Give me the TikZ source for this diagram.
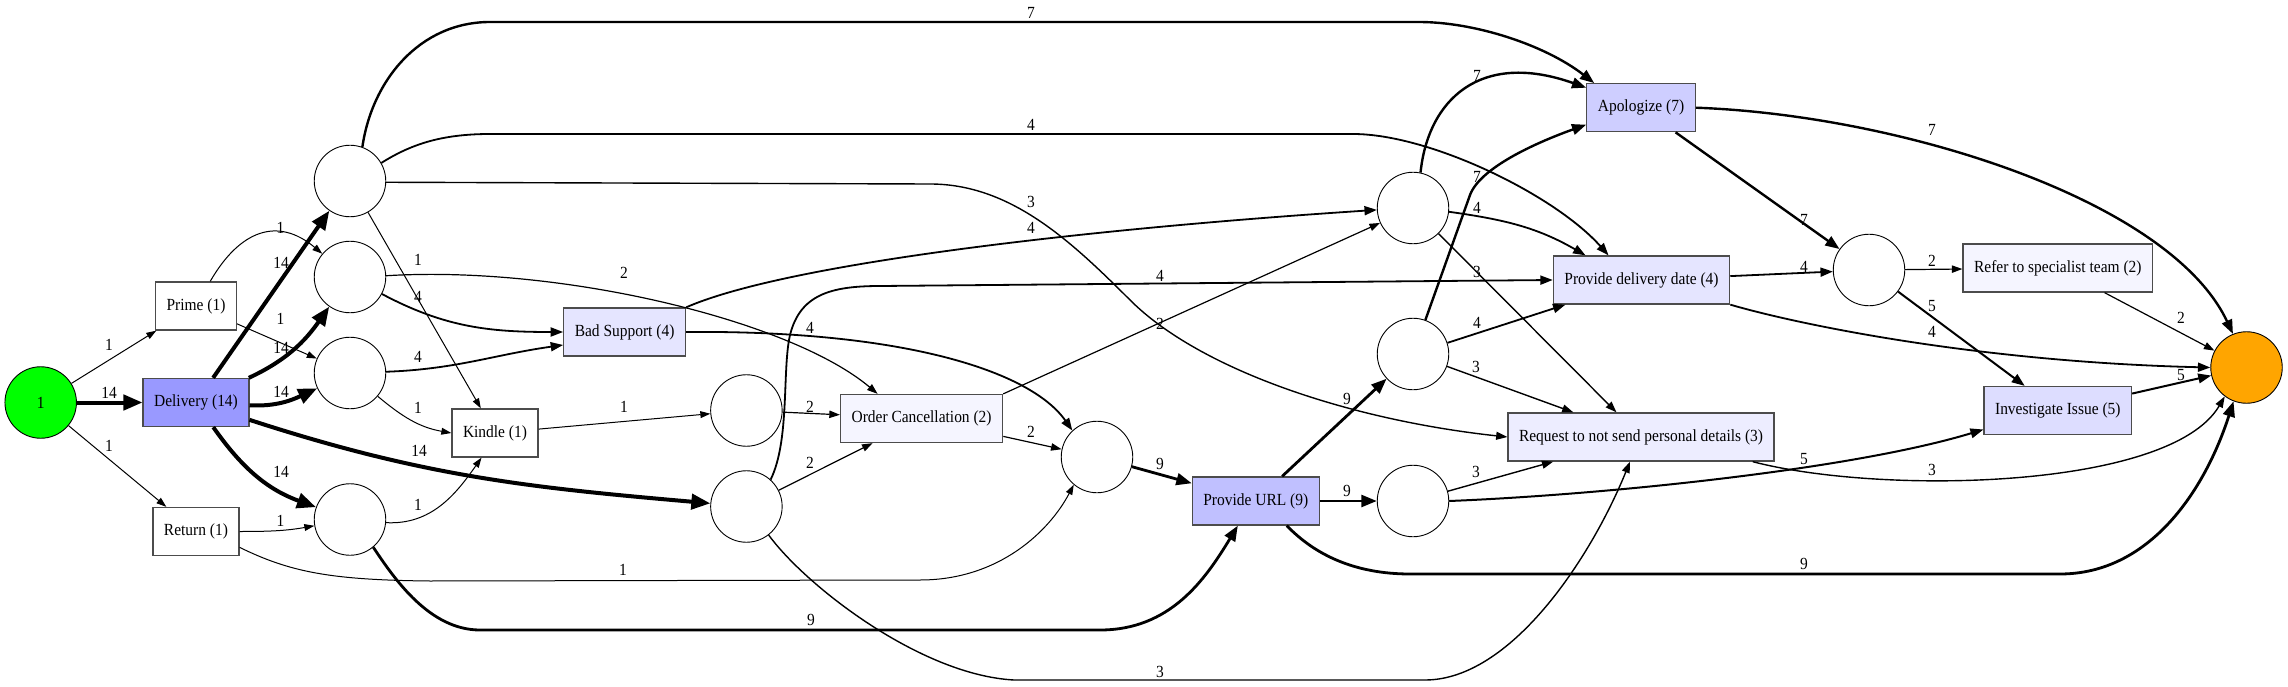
\documentclass[tikz,border=0pt]{standalone}
\usepackage{fontspec}
\setmainfont{Liberation Serif}[FakeStretch=0.91]
\usetikzlibrary{arrows.meta}

\definecolor{startgreen}{RGB}{0,255,0}
\definecolor{endorange}{RGB}{255,165,0}
\definecolor{freq14}{RGB}{153,153,255}
\definecolor{freq9}{RGB}{192,192,255}
\definecolor{freq7}{RGB}{206,206,255}
\definecolor{freq5}{RGB}{221,221,255}
\definecolor{freq4}{RGB}{229,229,255}
\definecolor{freq3}{RGB}{237,237,255}
\definecolor{freq2}{RGB}{245,245,255}

\tikzstyle{place} = [draw, circle, minimum size=71.5pt, inner sep=0pt, line width=0.9pt]
\tikzstyle{trans} = [draw=black!70, rectangle, line width=1.3pt,
    minimum height=48pt, inner xsep=11pt, inner ysep=0pt, fill=white]
\tikzstyle{lbl} = [inner sep=0pt]
\tikzset{flow/.style={->, line width=#1pt}}

\begin{document}
\begin{tikzpicture}[x=1pt, y=1pt, >={Triangle[length=7pt 3, width=4pt 2.8]},
    font=\fontsize{17}{20}\selectfont]
      \useasboundingbox (0,0) rectangle (2288,-687);

      \node[place, fill=startgreen] (start) at (40.7,-402.5) {1};
      \node[trans] (prime) at (196,-306) {Prime (1)};
      \node[trans, fill=freq14] (delivery) at (196,-402.5) {Delivery (14)};
      \node[trans] (return) at (196,-531.5) {Return (1)};
      \node[place] (p1) at (350,-181) {};
      \node[place] (p2) at (350,-277) {};
      \node[place] (p3) at (350,-373) {};
      \node[place] (p4) at (350,-519.5) {};
      \node[trans] (kindle) at (495,-433) {Kindle (1)};
      \node[trans, fill=freq4] (badsup) at (624.6,-332) {Bad Support (4)};
      \node[place] (p5) at (746.4,-410.5) {};
      \node[place] (p6) at (746.4,-506.5) {};
      \node[trans, fill=freq2] (cancel) at (921.6,-418.5) {Order Cancellation (2)};
      \node[place] (p7) at (1097,-457) {};
      \node[trans, fill=freq9] (url) at (1255.8,-501) {Provide URL (9)};
      \node[place] (q1) at (1413,-208) {};
      \node[place] (q2) at (1413,-354) {};
      \node[place] (q3) at (1413,-501) {};
      \node[trans, fill=freq7] (apol) at (1641,-107.7) {Apologize (7)};
      \node[trans, fill=freq4] (date) at (1641.5,-280) {Provide delivery date (4)};
      \node[trans, fill=freq3] (privacy) at (1641,-437) {Request to not send personal details (3)};
      \node[place] (r1) at (1869,-270) {};
      \node[trans, fill=freq2] (refer) at (2057.8,-268) {Refer to specialist team (2)};
      \node[trans, fill=freq5] (invest) at (2057.8,-410.5) {Investigate Issue (5)};
      \node[place, fill=endorange] (sink) at (2246.5,-367.5) {};

      % start and first activities
      \draw[flow=1] (start) -- (prime) node[lbl] at (109,-345) {1};
      \draw[flow=4] (start) -- (delivery) node[lbl] at (109,-393) {14};
      \draw[flow=1] (start) -- (return) node[lbl] at (109,-446) {1};
      \draw[flow=1] (prime) to[out=60,in=140,looseness=1.3] (p2) node[lbl] at (280.5,-228) {1};
      \draw[flow=1] (prime) -- (p3) node[lbl] at (280.5,-319) {1};
      \draw[flow=4] (delivery) -- (p1) node[lbl] at (281,-263) {14};
      \draw[flow=4] (delivery) to[out=25,in=235] (p2) node[lbl] at (281,-348) {14};
      \draw[flow=4] (delivery) to[out=-3,in=205] (p3) node[lbl] at (281,-392) {14};
      \draw[flow=4] (delivery) to[out=-55,in=160] (p4) node[lbl] at (281,-472) {14};
      \draw[flow=4] (delivery) to[out=-18,in=175] (p6) node[lbl] at (419,-451) {14};
      \draw[flow=1] (return) to[out=0,in=190] (p4) node[lbl] at (280.5,-521) {1};
      \draw[flow=1] (return.-20) .. controls (290,-572) and (330,-580) .. (430,-581)
          -- (920,-580) .. controls (1000,-580) and (1050,-530) .. (p7.-130)
          node[lbl] at (623,-570) {1};

      % first column of places
      \draw[flow=1] (p1) -- (kindle) node[lbl] at (418,-260) {1};
      \draw[flow=2.4] (p1.70) .. controls (372,-80) and (420,-22) .. (490,-22)
          -- (1419,-22) .. controls (1475,-22) and (1545,-45) .. ([xshift=8pt]apol.north west)
          node[lbl] at (1031,-13) {7};
      \draw[flow=1.8] (p1.30) .. controls (410,-145) and (440,-134) .. (490,-134)
          -- (1353,-134) .. controls (1430,-134) and (1555,-195) .. ([xshift=-33pt]date.north)
          node[lbl] at (1031,-125) {4};
      \draw[flow=1.4] (p1.-2) -- (930,-184) .. controls (1010,-184) and (1070,-240) .. (1130,-300)
          .. controls (1200,-370) and (1350,-420) .. (privacy.west)
          node[lbl] at (1031,-202) {3};
      \draw[flow=1.8] (p2) to[out=-28,in=180] (badsup.west) node[lbl] at (418,-297) {4};
      \draw[flow=1.2] (p2.2) .. controls (560,-265) and (790,-320) .. ([xshift=-44pt]cancel.north)
          node[lbl] at (624,-273) {2};
      \draw[flow=1.8] (p3.2) to[out=2,in=188] ([yshift=-13pt]badsup.west) node[lbl] at (418,-357) {4};
      \draw[flow=1] (p3) to[out=-40,in=170] (kindle.west) node[lbl] at (418,-408) {1};
      \draw[flow=1] (p4.-5) to[out=-3,in=235] ([xshift=-13.5pt]kindle.south) node[lbl] at (418,-505) {1};
      \draw[flow=2.8] (p4.-50) .. controls (395,-580) and (430,-630) .. (480,-630)
          -- (1100,-630) .. controls (1170,-630) and (1205,-580) .. ([xshift=-18pt]url.south)
          node[lbl] at (811,-620) {9};

      % middle part
      \draw[flow=1] (kindle) -- (p5) node[lbl] at (624,-407) {1};
      \draw[flow=1.8] (badsup.north east) .. controls (790,-262) and (1100,-228) .. (q1.183)
          node[lbl] at (1031,-228) {4};
      \draw[flow=1.8] (badsup.east) .. controls (900,-330) and (1030,-370) .. (p7.133)
          node[lbl] at (810,-328) {4};
      \draw[flow=1.2] (p5) -- (cancel) node[lbl] at (810,-407) {2};
      \draw[flow=1.2] (p6) -- (cancel) node[lbl] at (810,-463) {2};
      \draw[flow=1.8] (p6.48) .. controls (790,-440) and (782,-370) .. (790,-335)
          .. controls (800,-295) and (830,-286) .. (880,-286) -- (date.west)
          node[lbl] at (1160,-276) {4};
      \draw[flow=1.4] (p6.-52) .. controls (805,-585) and (920,-675) .. (1014,-680)
          -- (1425,-680) .. controls (1510,-680) and (1590,-560) .. ([xshift=-11pt]privacy.south)
          node[lbl] at (1160,-672) {3};
      \draw[flow=1.2] (cancel) -- (p7) node[lbl] at (1031,-432) {2};
      \draw[flow=1.2] (cancel.north east) -- (q1) node[lbl] at (1160,-324) {2};
      \draw[flow=2.8] (p7) -- (url) node[lbl] at (1160,-464) {9};
      \draw[flow=2.8] (url) -- (q2) node[lbl] at (1347,-399) {9};
      \draw[flow=2.8] (url) -- (q3) node[lbl] at (1347,-491) {9};
      \draw[flow=2.8] ([xshift=31pt]url.south) .. controls (1315,-555) and (1355,-574) .. (1410,-574)
          -- (2060,-574) .. controls (2150,-574) and (2205,-490) .. (sink.-111)
          node[lbl] at (1804,-564) {9};

      % second column of places
      \draw[flow=2.4] (q1.78) .. controls (1428,-100) and (1480,-50) .. ([yshift=20pt]apol.west)
          node[lbl] at (1477,-76) {7};
      \draw[flow=1.8] (q1.-6) to[out=-8,in=150] ([xshift=-56pt]date.north) node[lbl] at (1477,-208) {4};
      \draw[flow=1.4] (q1) -- (privacy) node[lbl] at (1477,-272) {3};
      \draw[flow=2.4] (q2.70) -- (1470,-195) .. controls (1480,-168) and (1535,-143) .. ([yshift=-17pt]apol.west)
          node[lbl] at (1477,-177) {7};
      \draw[flow=1.8] (q2) -- (date) node[lbl] at (1477,-323) {4};
      \draw[flow=1.4] (q2) -- (privacy) node[lbl] at (1476,-367) {3};
      \draw[flow=1.4] (q3) -- (privacy) node[lbl] at (1476,-472) {3};
      \draw[flow=2] (q3.east) .. controls (1600,-495) and (1850,-470) .. ([yshift=-19pt]invest.west)
          node[lbl] at (1804,-459) {5};

      % towards the end
      \draw[flow=2.4] (apol) -- (r1) node[lbl] at (1804,-220) {7};
      \draw[flow=2.4] (apol.east) .. controls (1900,-115) and (2170,-200) .. (sink.112)
          node[lbl] at (1932,-130) {7};
      \draw[flow=1.8] (date) -- (r1) node[lbl] at (1804,-267) {4};
      \draw[flow=1.8] (date.south east) .. controls (1800,-325) and (1980,-362) .. (sink.west)
          node[lbl] at (1932,-332) {4};
      \draw[flow=1.4] ([xshift=-22pt]privacy.south east) .. controls (1880,-495) and (2170,-490) .. (sink.-127)
          node[lbl] at (1932,-470) {3};
      \draw[flow=1.2] (r1) -- (refer) node[lbl] at (1932,-261) {2};
      \draw[flow=2] (r1) -- (invest) node[lbl] at (1932,-306) {5};
      \draw[flow=1.2] (refer) -- (sink) node[lbl] at (2181,-318) {2};
      \draw[flow=2] (invest) -- (sink) node[lbl] at (2181,-375) {5};
\end{tikzpicture}
\end{document}
